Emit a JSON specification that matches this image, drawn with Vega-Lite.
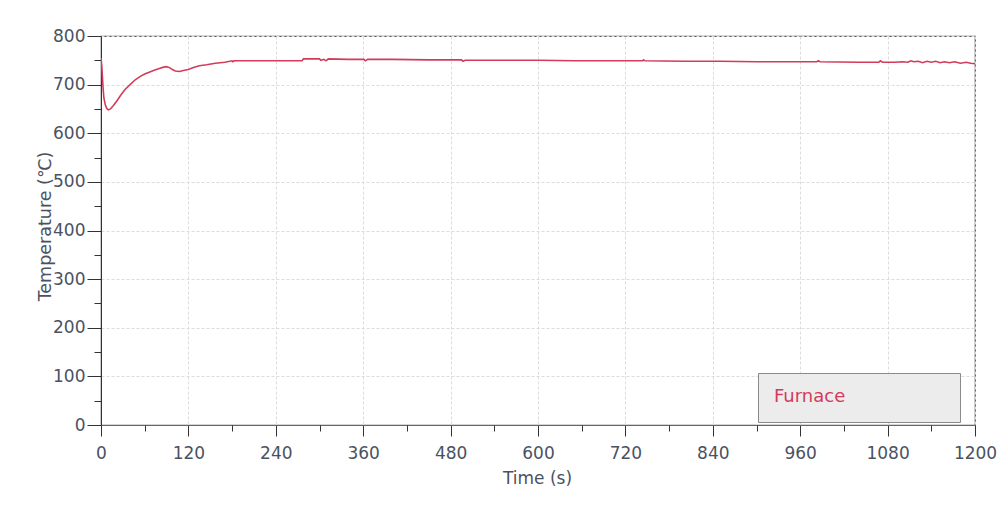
{
  "$schema": "https://vega.github.io/schema/vega-lite/v6.json",
  "width": 874,
  "height": 389,
  "autosize": {"type": "none"},
  "padding": {"left": 101, "top": 36, "right": 33, "bottom": 83},
  "background": "white",
  "data": {"values": [
    {"t": 0, "temp": 755}, {"t": 1, "temp": 740}, {"t": 2, "temp": 715}, {"t": 3, "temp": 690},
    {"t": 4, "temp": 672}, {"t": 6, "temp": 658}, {"t": 8, "temp": 651}, {"t": 10, "temp": 648},
    {"t": 13, "temp": 650}, {"t": 17, "temp": 657}, {"t": 22, "temp": 667}, {"t": 27, "temp": 678},
    {"t": 33, "temp": 690}, {"t": 40, "temp": 700}, {"t": 47, "temp": 710}, {"t": 54, "temp": 717},
    {"t": 60, "temp": 722}, {"t": 67, "temp": 726}, {"t": 74, "temp": 730}, {"t": 80, "temp": 733},
    {"t": 86, "temp": 736}, {"t": 90, "temp": 737}, {"t": 94, "temp": 735}, {"t": 98, "temp": 731},
    {"t": 102, "temp": 728}, {"t": 108, "temp": 727}, {"t": 113, "temp": 729}, {"t": 120, "temp": 731},
    {"t": 127, "temp": 735}, {"t": 135, "temp": 739}, {"t": 145, "temp": 741}, {"t": 157, "temp": 744},
    {"t": 170, "temp": 746}, {"t": 180, "temp": 749}, {"t": 181, "temp": 747}, {"t": 183, "temp": 749},
    {"t": 220, "temp": 749}, {"t": 250, "temp": 749}, {"t": 276, "temp": 749}, {"t": 278, "temp": 753},
    {"t": 300, "temp": 753}, {"t": 302, "temp": 750}, {"t": 306, "temp": 752}, {"t": 309, "temp": 749},
    {"t": 312, "temp": 753}, {"t": 340, "temp": 752}, {"t": 361, "temp": 752}, {"t": 363, "temp": 749},
    {"t": 366, "temp": 752}, {"t": 400, "temp": 752}, {"t": 450, "temp": 751}, {"t": 495, "temp": 751},
    {"t": 497, "temp": 748}, {"t": 500, "temp": 750}, {"t": 550, "temp": 750}, {"t": 600, "temp": 750},
    {"t": 650, "temp": 749}, {"t": 700, "temp": 749}, {"t": 744, "temp": 749}, {"t": 745, "temp": 751},
    {"t": 747, "temp": 749}, {"t": 800, "temp": 748}, {"t": 850, "temp": 748}, {"t": 900, "temp": 747},
    {"t": 950, "temp": 747}, {"t": 983, "temp": 747}, {"t": 985, "temp": 749}, {"t": 987, "temp": 747},
    {"t": 1040, "temp": 746}, {"t": 1068, "temp": 746}, {"t": 1070, "temp": 749}, {"t": 1073, "temp": 746},
    {"t": 1090, "temp": 746}, {"t": 1100, "temp": 747}, {"t": 1108, "temp": 746}, {"t": 1112, "temp": 749},
    {"t": 1116, "temp": 747}, {"t": 1122, "temp": 748}, {"t": 1128, "temp": 745}, {"t": 1134, "temp": 748},
    {"t": 1140, "temp": 746}, {"t": 1146, "temp": 748}, {"t": 1152, "temp": 745}, {"t": 1158, "temp": 747},
    {"t": 1165, "temp": 745}, {"t": 1172, "temp": 747}, {"t": 1180, "temp": 744}, {"t": 1188, "temp": 746},
    {"t": 1194, "temp": 744}, {"t": 1200, "temp": 743}
  ]},
  "layer": [
    {
      "mark": {"type": "line", "strokeWidth": 1.6, "clip": true},
      "encoding": {
        "x": {
          "field": "t", "type": "quantitative",
          "scale": {"domain": [0, 1200], "nice": false, "zero": false},
          "axis": {
            "orient": "bottom", "format": "d", "labelFlush": false,
            "values": [0, 120, 240, 360, 480, 600, 720, 840, 960, 1080, 1200],
            "tickSize": 11, "tickColor": "#333333", "domainColor": "#666666",
            "labelFontSize": 17, "labelColor": "#4a5262", "labelPadding": 9,
            "grid": true, "gridColor": "#dcdcdc", "gridDash": [3, 2],
            "title": "Time (s)", "titleFontSize": 17, "titleFontWeight": "normal",
            "titleColor": "#4a5262", "titleX": 436, "titleY": 53, "titleBaseline": "middle"
          }
        },
        "y": {
          "field": "temp", "type": "quantitative",
          "scale": {"domain": [0, 800], "nice": false},
          "axis": {
            "orient": "left", "format": "d", "labelFlush": false,
            "values": [0, 100, 200, 300, 400, 500, 600, 700, 800],
            "tickSize": 14, "tickColor": "#333333", "domainColor": "#333333",
            "labelFontSize": 17, "labelColor": "#4a5262", "labelPadding": 2,
            "grid": true, "gridColor": "#dcdcdc", "gridDash": [3, 2],
            "title": "Temperature (℃)", "titleFontSize": 17.5, "titleFontWeight": "normal",
            "titleColor": "#4a5262", "titleX": -56, "titleY": 190, "titleAngle": 270,
            "titleBaseline": "middle", "titleAlign": "center"
          }
        },
        "color": {
          "datum": "Furnace", "type": "nominal",
          "scale": {"range": ["#d23c5a"]},
          "legend": {
            "orient": "none", "legendX": 657, "legendY": 337,
            "title": "Furnace", "titleOrient": "left", "titleColor": "#d23c5a",
            "titleFontSize": 18, "titleFontWeight": "normal", "titlePadding": 77,
            "titleBaseline": "middle", "titleAnchor": "middle",
            "fillColor": "#ececec", "strokeColor": "#8a8a8a", "padding": 16,
            "symbolSize": 441, "symbolOpacity": 0, "symbolStrokeWidth": 0,
            "labelExpr": "''", "labelOffset": 0
          }
        }
      }
    },
    {
      "mark": {"type": "line", "strokeOpacity": 0},
      "encoding": {
        "x": {
          "field": "t", "type": "quantitative",
          "scale": {"domain": [0, 1200], "nice": false, "zero": false},
          "axis": {
            "orient": "bottom",
            "values": [60, 180, 300, 420, 540, 660, 780, 900, 1020, 1140],
            "tickSize": 6, "tickColor": "#333333", "labels": false, "domain": false,
            "grid": false, "title": null
          }
        },
        "y": {
          "field": "temp", "type": "quantitative",
          "scale": {"domain": [0, 800], "nice": false},
          "axis": {
            "orient": "left",
            "values": [50, 150, 250, 350, 450, 550, 650, 750],
            "tickSize": 7, "tickColor": "#333333", "labels": false, "domain": false,
            "grid": false, "title": null
          }
        }
      }
    }
  ],
  "resolve": {"axis": {"x": "independent", "y": "independent"}},
  "config": {
    "font": "DejaVu Sans",
    "view": {"stroke": "#555555", "strokeWidth": 1.2}
  }
}
